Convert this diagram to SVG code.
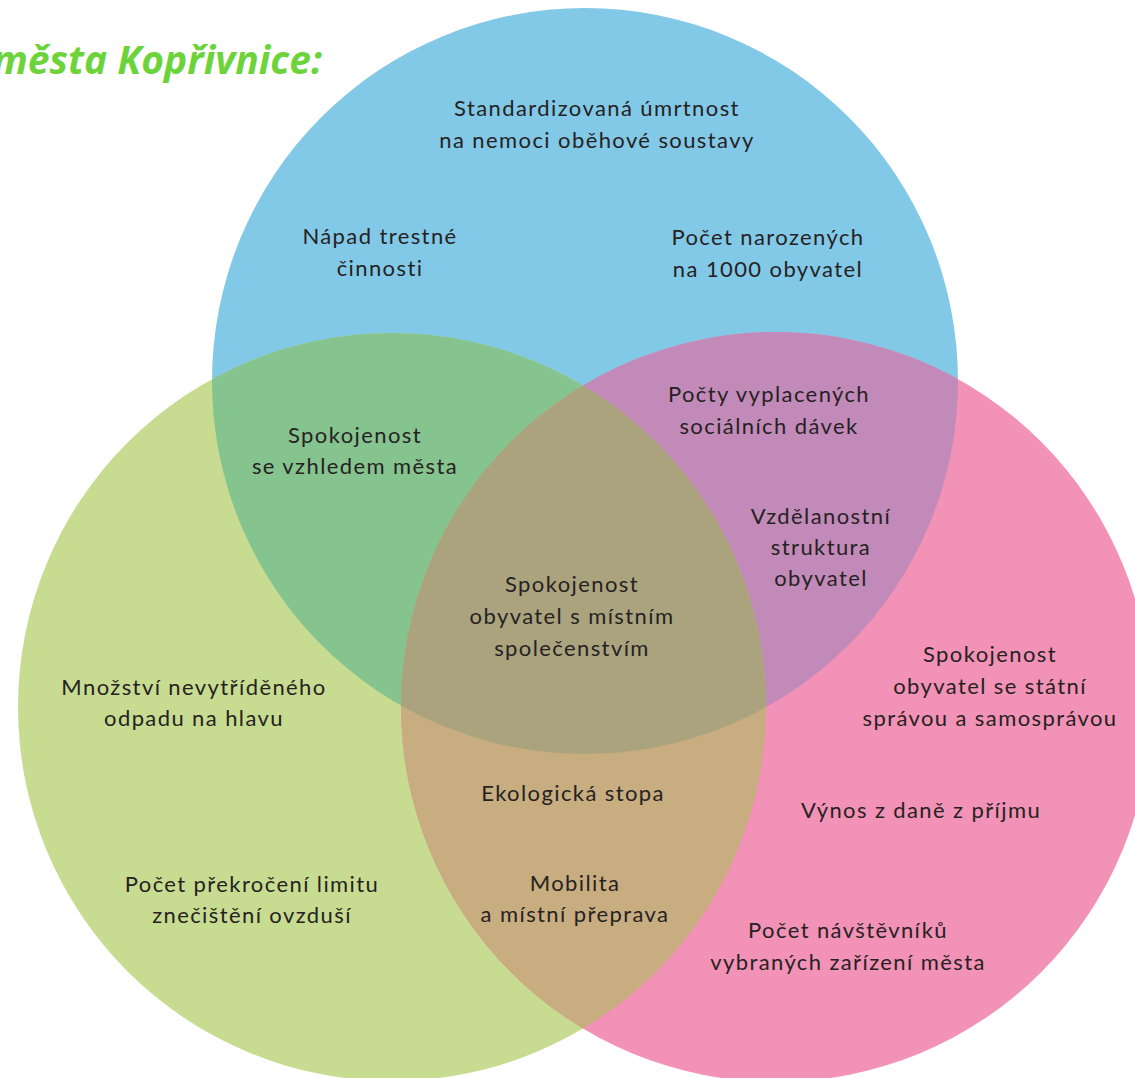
<svg xmlns="http://www.w3.org/2000/svg" width="1135" height="1078" viewBox="0 0 1135 1078">
<defs>
<clipPath id="cB"><circle cx="585" cy="381" r="373"/></clipPath>
<clipPath id="cG"><circle cx="392" cy="707" r="374"/></clipPath>
<clipPath id="cP"><circle cx="776" cy="707" r="375"/></clipPath>
<style>
.t{font-family:Lato,"Open Sans",sans-serif;font-size:22px;letter-spacing:1.4px;fill:#262222;text-anchor:middle}
.title{font-family:"Open Sans",Lato,sans-serif;font-size:39px;font-weight:bold;font-style:italic;fill:#6cd43a;text-anchor:end}
</style>
</defs>
<rect width="1135" height="1078" fill="#ffffff"/>
<g id="circles">
<circle id="blue" cx="585" cy="381" r="373" fill="#82c8e7"/>
<circle id="green" cx="392" cy="707" r="374" fill="#c7dc91"/>
<circle id="pink" cx="776" cy="707" r="375" fill="#f292b6"/>
<g clip-path="url(#cB)"><circle cx="392" cy="707" r="374" fill="#86c48f"/></g>
<g clip-path="url(#cB)"><circle cx="776" cy="707" r="375" fill="#c18ab8"/></g>
<g clip-path="url(#cG)"><circle cx="776" cy="707" r="375" fill="#c7ad7f"/></g>
<g clip-path="url(#cB)"><g clip-path="url(#cG)"><circle cx="776" cy="707" r="375" fill="#aaa37e"/></g></g>
</g>
<text class="title" x="322" y="74">města Kopřivnice:</text>
<g id="n1"><text class="t" x="597" y="116">Standardizovaná úmrtnost</text><text class="t" x="597" y="148">na nemoci oběhové soustavy</text></g>
<g id="n2"><text class="t" x="380" y="244">Nápad trestné</text><text class="t" x="380" y="276">činnosti</text></g>
<g id="n3"><text class="t" x="768" y="245">Počet narozených</text><text class="t" x="768" y="277">na 1000 obyvatel</text></g>
<g id="n4"><text class="t" x="769" y="402">Počty vyplacených</text><text class="t" x="769" y="434">sociálních dávek</text></g>
<g id="n5"><text class="t" x="355" y="443">Spokojenost</text><text class="t" x="355" y="474">se vzhledem města</text></g>
<g id="n6"><text class="t" x="821" y="524">Vzdělanostní</text><text class="t" x="821" y="555">struktura</text><text class="t" x="821" y="586">obyvatel</text></g>
<g id="n7"><text class="t" x="572" y="592">Spokojenost</text><text class="t" x="572" y="624">obyvatel s místním</text><text class="t" x="572" y="656">společenstvím</text></g>
<g id="n8"><text class="t" x="990" y="662">Spokojenost</text><text class="t" x="990" y="694">obyvatel se státní</text><text class="t" x="990" y="726">správou a samosprávou</text></g>
<g id="n9"><text class="t" x="194" y="695">Množství nevytříděného</text><text class="t" x="194" y="726">odpadu na hlavu</text></g>
<g id="n10"><text class="t" x="573" y="801">Ekologická stopa</text></g>
<g id="n11"><text class="t" x="921" y="818">Výnos z daně z příjmu</text></g>
<g id="n12"><text class="t" x="252" y="892">Počet překročení limitu</text><text class="t" x="252" y="923">znečištění ovzduší</text></g>
<g id="n13"><text class="t" x="575" y="891">Mobilita</text><text class="t" x="575" y="922">a místní přeprava</text></g>
<g id="n14"><text class="t" x="848" y="938">Počet návštěvníků</text><text class="t" x="848" y="970">vybraných zařízení města</text></g>
<g id="connectors"/>
</svg>
